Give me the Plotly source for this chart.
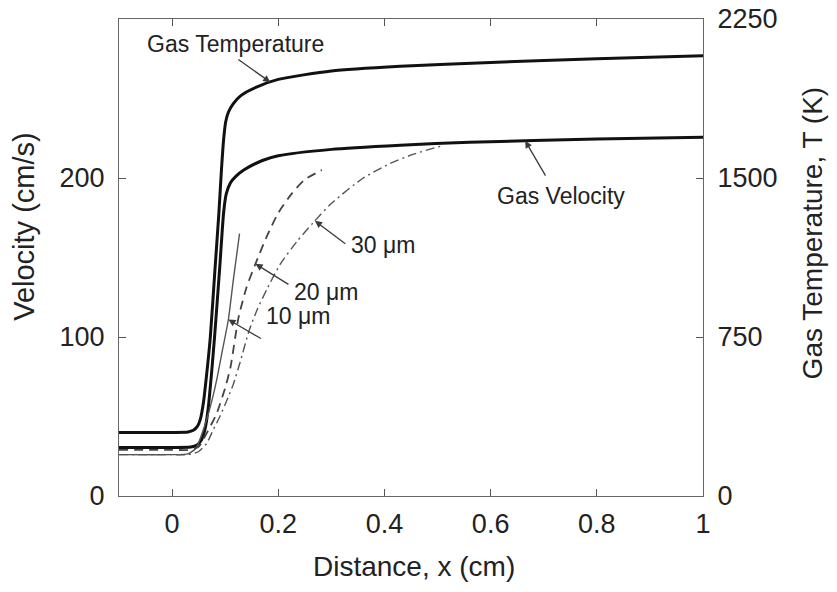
import numpy as np
import plotly.graph_objects as go

# Gas temperature (K) along the burner axis
temp_x = [-0.1, 0.0, 0.03, 0.04, 0.048, 0.053, 0.059, 0.066, 0.072, 0.08, 0.088, 0.093,
          0.097, 0.101, 0.106, 0.115, 0.13, 0.16, 0.2, 0.3, 0.43, 0.6, 0.8, 1.0]
temp_k = [300, 300, 302, 310, 330, 360, 440, 595, 750, 1040, 1330, 1540,
          1680, 1765, 1810, 1850, 1890, 1930, 1965, 2005, 2027, 2045, 2062, 2077]

# Gas velocity (cm/s)
gas_x = [-0.1, 0.0, 0.035, 0.047, 0.055, 0.062, 0.068, 0.075, 0.08, 0.09, 0.097, 0.102,
         0.11, 0.12, 0.135, 0.17, 0.2, 0.3, 0.43, 0.56, 0.8, 1.0]
gas_v = [30.5, 30.5, 30.8, 32, 35, 42, 55, 80, 100, 145, 178, 190,
         197, 201, 205, 211, 214, 218, 220.6, 222.5, 224.5, 225.6]

# Particle velocities (cm/s) for three particle sizes
p10_x = [-0.1, 0.0, 0.03, 0.045, 0.055, 0.065, 0.075, 0.084, 0.095, 0.106, 0.115, 0.121, 0.127]
p10_v = [26, 26, 26.5, 30, 38, 48, 60, 73, 92, 111, 135, 150, 165]

p20_x = [-0.1, 0.0, 0.03, 0.05, 0.066, 0.084, 0.1, 0.11, 0.125, 0.14, 0.157, 0.178,
         0.2, 0.225, 0.25, 0.282]
p20_v = [29, 29, 29, 31, 40, 52, 68, 81, 112, 131, 146, 163,
         178, 190, 199, 205]

p30_x = [-0.1, 0.0, 0.03, 0.05, 0.065, 0.078, 0.09, 0.103, 0.115, 0.128, 0.145, 0.16,
         0.18, 0.204, 0.235, 0.266, 0.3, 0.36, 0.41, 0.455, 0.511]
p30_v = [26, 26, 26, 28, 33, 42, 50, 60, 70, 84, 104, 117,
         131, 146, 160, 172, 184, 200, 209, 215, 220.5]

x_ticks = [0, 0.2, 0.4, 0.6, 0.8, 1]
v_ticks = [0, 100, 200]
t_ticks = [0, 750, 1500, 2250]

FONT = "Liberation Sans, Arial, sans-serif"
INK = "#222222"

fig = go.Figure()

thick = dict(color="#111111", width=3)
fig.add_trace(go.Scatter(x=temp_x, y=temp_k, mode="lines", line=dict(**thick, shape="spline", smoothing=0.6),
                         yaxis="y2", name="Gas Temperature"))
fig.add_trace(go.Scatter(x=gas_x, y=gas_v, mode="lines", line=dict(**thick, shape="spline", smoothing=0.6),
                         name="Gas Velocity"))
fig.add_trace(go.Scatter(x=p10_x, y=p10_v, mode="lines",
                         line=dict(color="#555555", width=1.4, shape="spline", smoothing=0.6), name="10 μm"))
fig.add_trace(go.Scatter(x=p20_x, y=p20_v, mode="lines",
                         line=dict(color="#444444", width=1.8, dash="9px,6px", shape="spline", smoothing=0.6),
                         name="20 μm"))
fig.add_trace(go.Scatter(x=p30_x, y=p30_v, mode="lines",
                         line=dict(color="#555555", width=1.4, dash="9px,4px,2px,4px", shape="spline", smoothing=0.6),
                         name="30 μm"))

# Labels with leader arrows pointing onto the curves
def arrow(tip_x, tip_y, tail_x, tail_y, yref="y"):
    fig.add_annotation(x=tip_x, y=tip_y, ax=tail_x, ay=tail_y, xref="x", yref=yref,
                       axref="x", ayref=yref, text="", showarrow=True,
                       arrowhead=2, arrowsize=1.1, arrowwidth=1.3, arrowcolor="#3a3a3a")

def label(x, y, txt, anchor="center"):
    fig.add_annotation(x=x, y=y, xref="x", yref="y", text=txt, showarrow=False,
                       xanchor=anchor, yanchor="middle",
                       font=dict(family=FONT, size=23, color=INK))

arrow(0.185, float(np.interp(0.185, temp_x, temp_k)), 0.122, 275.2 * 7.5, yref="y2")
label(0.119, 284.5, "Gas Temperature")

arrow(0.665, float(np.interp(0.665, gas_x, gas_v)), 0.705, 200.5)
label(0.733, 188.5, "Gas Velocity")

arrow(0.269, float(np.interp(0.269, p30_x, p30_v)), 0.329, 158)
label(0.333, 158, "30 μm", "left")

arrow(0.157, float(np.interp(0.157, p20_x, p20_v)), 0.222, 132.5)
label(0.226, 128.5, "20 μm", "left")

arrow(0.106, float(np.interp(0.106, p10_x, p10_v)), 0.17, 98.5)
label(0.173, 113, "10 μm", "left")

# Axis titles placed as free text
fig.add_annotation(x=-0.163, y=0.566, xref="paper", yref="paper", text="Velocity (cm/s)",
                   textangle=-90, showarrow=False, xanchor="center", yanchor="middle",
                   font=dict(family=FONT, size=29, color=INK))
fig.add_annotation(x=1.187, y=0.551, xref="paper", yref="paper", text="Gas Temperature, T (K)",
                   textangle=-90, showarrow=False, xanchor="center", yanchor="middle",
                   font=dict(family=FONT, size=28, color=INK))
fig.add_annotation(x=0.505, y=-0.148, xref="paper", yref="paper", text="Distance, x (cm)",
                   showarrow=False, xanchor="center", yanchor="middle",
                   font=dict(family=FONT, size=28, color=INK))

axis_common = dict(showgrid=False, zeroline=False, ticks="inside", ticklen=7, tickwidth=1,
                   tickcolor="#555555", linecolor="#666666", linewidth=1, automargin=False,
                   tickfont=dict(family=FONT, size=27, color=INK))

fig.update_layout(
    width=837, height=592,
    margin=dict(l=119, r=134, t=19, b=96),
    paper_bgcolor="white", plot_bgcolor="white",
    showlegend=False,
    xaxis=dict(range=[-0.1, 1.0], tickvals=x_ticks, ticktext=[f"{v:g}" for v in x_ticks],
               showline=True, mirror="ticks", ticklabelstandoff=4, **axis_common),
    yaxis=dict(range=[0, 300], tickvals=v_ticks, showline=True, mirror=True, ticklabelstandoff=8,
               **axis_common),
    yaxis2=dict(range=[0, 2250], tickvals=t_ticks, overlaying="y", side="right", showline=True,
                ticklabelstandoff=8, **axis_common),
)

fig.write_html("out.html")
